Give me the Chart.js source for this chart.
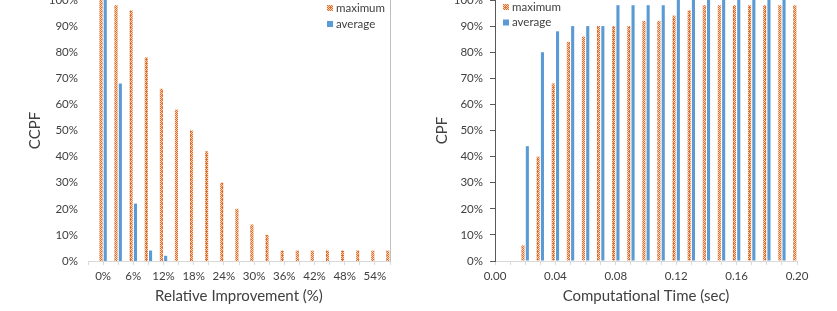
<!DOCTYPE html>
<html>
<head>
<meta charset="utf-8">
<script src="https://cdn.jsdelivr.net/npm/chart.js@4.4.1/dist/chart.umd.min.js"></script>
<style>
    html, body { margin: 0; padding: 0; background: #fff; overflow: hidden; }
    #wrap { position: relative; width: 837px; height: 311px; }
    canvas { position: absolute; top: 0; }
    #improvement-canvas { left: 0; }
    #time-canvas { left: 419px; }
</style>
</head>
<body>
<div id="wrap">
    <canvas id="improvement-canvas" width="419" height="311"></canvas>
    <canvas id="time-canvas" width="418" height="311"></canvas>
</div>
<script>
// left panel: relative improvement (%) vs CCPF (%)
const improvementBins = [0, 3, 6, 9, 12, 15, 18, 21, 24, 27, 30, 33, 36, 39, 42, 45, 48, 51, 54, 57];
const improvementMax  = [100, 98, 96, 78, 66, 58, 50, 42, 30, 20, 14, 10, 4, 4, 4, 4, 4, 4, 4, 4];
const improvementAvg  = [100, 68, 22, 4, 2, 0, 0, 0, 0, 0, 0, 0, 0, 0, 0, 0, 0, 0, 0, 0];

// right panel: computational time (sec) vs CPF (%)
const timeBins = [0.00, 0.01, 0.02, 0.03, 0.04, 0.05, 0.06, 0.07, 0.08, 0.09, 0.10,
                  0.11, 0.12, 0.13, 0.14, 0.15, 0.16, 0.17, 0.18, 0.19, 0.20];
const timeMax = [0, 0, 6, 40, 68, 84, 86, 90, 90, 90, 92, 92, 94, 96, 98, 98, 98, 98, 98, 98, 98];
const timeAvg = [0, 0, 44, 80, 88, 90, 90, 90, 98, 98, 98, 98, 100, 100, 100, 100, 100, 100, 100, 100, 100];

const seriesNames = ['maximum', 'average'];
const textColor = '#404040';
const blue = '#5b9bd5';

Chart.defaults.font.family = 'Lato';
Chart.defaults.color = textColor;

// excel-ish pattern fill for the "maximum" bars
function checkerFill() {
    const c = document.createElement('canvas');
    c.width = 4;
    c.height = 4;
    const g = c.getContext('2d');
    g.fillStyle = '#e06c2a';
    g.fillRect(0, 0, 4, 4);
    g.fillStyle = '#f7d2b6';
    [[1, 0], [3, 0], [0, 1], [2, 1], [1, 2], [3, 2], [0, 3]].forEach(p => g.fillRect(p[0], p[1], 1, 1));
    return g.createPattern(c, 'repeat');
}
const orangeFill = checkerFill();

// small stacked legend in the top corner of the plot
const cornerLegend = {
    id: 'cornerLegend',
    afterDraw(chart, args, opts) {
        const ctx = chart.ctx;
        ctx.save();
        ctx.font = '11.5px Lato';
        ctx.textBaseline = 'middle';
        chart.data.datasets.forEach((ds, i) => {
            const y = opts.y + i * opts.gap;
            ctx.fillStyle = ds.backgroundColor;
            ctx.fillRect(opts.x, y - 3, 6, 6);
            ctx.fillStyle = textColor;
            ctx.fillText(ds.label, opts.x + 9, y);
        });
        ctx.restore();
    }
};

function makeDatasets(maxValues, avgValues) {
    return [
        { label: seriesNames[0], data: maxValues, backgroundColor: orangeFill,
          categoryPercentage: 0.57, barPercentage: 0.72 },
        { label: seriesNames[1], data: avgValues, backgroundColor: blue,
          categoryPercentage: 0.57, barPercentage: 0.72 }
    ];
}

const pctTicks = {
    stepSize: 10,
    font: { size: 11.5 },
    color: textColor,
    callback: v => v + '%'
};

// ---------- left chart ----------
new Chart(document.getElementById('improvement-canvas').getContext('2d'), {
    type: 'bar',
    data: { labels: improvementBins, datasets: makeDatasets(improvementMax, improvementAvg) },
    plugins: [cornerLegend],
    options: {
        responsive: false,
        animation: false,
        layout: { padding: { right: 29 } },
        plugins: {
            legend: { display: false },
            tooltip: { enabled: false },
            cornerLegend: { x: 327, y: 8, gap: 16 }
        },
        scales: {
            x: {
                type: 'linear',
                offset: false,
                min: -3,
                max: 57,
                ticks: {
                    stepSize: 3,
                    autoSkip: false,
                    maxRotation: 0,
                    minRotation: 0,
                    padding: 4,
                    font: { size: 11.5 },
                    callback: v => (v >= 0 && v <= 54 && v % 6 === 0) ? v + '%' : ''
                },
                grid: { offset: false, drawOnChartArea: false, tickLength: 4, color: '#d9d9d9' },
                border: { color: '#d9d9d9' },
                title: {
                    display: true,
                    text: 'Relative Improvement (%)',
                    font: { size: 15 },
                    padding: { top: 0, bottom: 6 }
                },
                afterFit: s => { s.height = 50; }
            },
            y: {
                min: 0,
                max: 100,
                ticks: { ...pctTicks, padding: 10 },
                grid: { display: false, drawTicks: false },
                border: { display: false },
                title: {
                    display: true,
                    text: 'CCPF',
                    font: { size: 15 },
                    padding: { top: 26, bottom: 0 }
                },
                afterFit: s => { s.width = 88; s.paddingTop = 0; }
            },
            y2: {
                position: 'right',
                ticks: { display: false },
                grid: { display: false, drawTicks: false },
                border: { display: true, color: '#bfbfbf' },
                afterFit: s => { s.width = 0; }
            }
        }
    }
});

// ---------- right chart ----------
new Chart(document.getElementById('time-canvas').getContext('2d'), {
    type: 'bar',
    data: { labels: timeBins, datasets: makeDatasets(timeMax, timeAvg) },
    plugins: [cornerLegend],
    options: {
        responsive: false,
        animation: false,
        layout: { padding: { right: 40 } },
        plugins: {
            legend: { display: false },
            tooltip: { enabled: false },
            cornerLegend: { x: 84, y: 7, gap: 15.5 }
        },
        scales: {
            x: {
                type: 'linear',
                offset: false,
                min: 0,
                max: 0.2,
                ticks: {
                    stepSize: 0.01,
                    autoSkip: false,
                    maxRotation: 0,
                    minRotation: 0,
                    padding: 4,
                    font: { size: 11.5 },
                    callback: v => Math.round(v * 100) % 4 === 0 ? Number(v).toFixed(2) : ''
                },
                grid: { offset: false, drawOnChartArea: false, tickLength: 4, color: '#d9d9d9' },
                border: { color: '#d9d9d9' },
                title: {
                    display: true,
                    text: 'Computational Time (sec)',
                    font: { size: 15 },
                    padding: { top: 0, bottom: 6 }
                },
                afterFit: s => { s.height = 50; }
            },
            y: {
                min: 0,
                max: 100,
                ticks: { ...pctTicks, padding: 7 },
                grid: { drawOnChartArea: false, tickLength: 5, color: '#595959' },
                border: { color: '#595959' },
                title: {
                    display: true,
                    text: 'CPF',
                    font: { size: 15 },
                    padding: { top: 14, bottom: 0 }
                },
                afterFit: s => { s.width = 76; s.paddingTop = 0; }
            }
        }
    }
});
</script>
</body>
</html>
